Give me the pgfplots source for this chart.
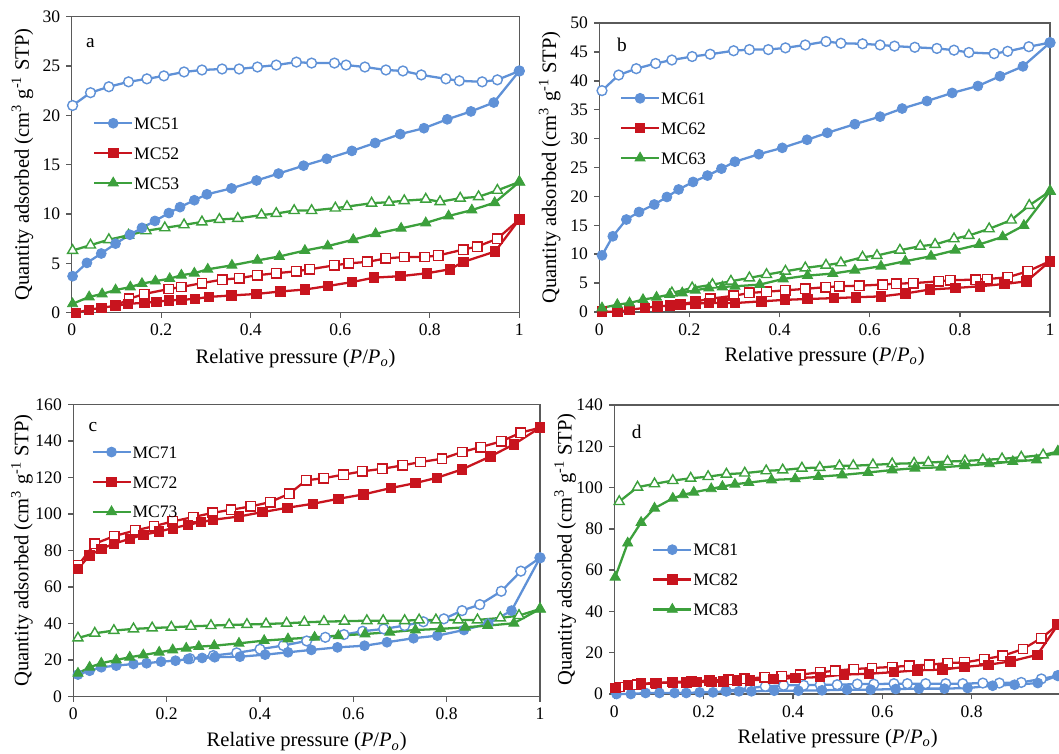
\documentclass[border=0pt]{standalone}
\usepackage{fontspec}
\setmainfont{Liberation Serif}
\usepackage{pgfplots}
\pgfplotsset{compat=1.18}
\definecolor{cb}{RGB}{95,145,215}
\definecolor{cr}{RGB}{200,20,30}
\definecolor{cg}{RGB}{60,160,60}
\definecolor{ax}{RGB}{90,90,90}
\pgfplotsset{
  iso/.style={scale only axis, anchor=south west, xmin=0, xmax=1, ymin=0, clip=false,
    xtick={0,0.2,0.4,0.6,0.8,1}, xticklabels={0,0.2,0.4,0.6,0.8,1},
    xtick pos=bottom, ytick pos=left, tick align=outside, major tick length=3pt,
    axis line style={ax, line width=0.9pt}, every tick/.style={ax, line width=0.8pt},
    tick label style={font=\fontsize{10}{12}\selectfont},
    /pgf/number format/assume math mode=true,
    label style={font=\fontsize{11.7}{14}\selectfont},
    xlabel={Relative pressure (\textit{P}/\textit{P}\textsubscript{\textit{o}})},
    ylabel={Quantity adsorbed (cm\textsuperscript{3} g\textsuperscript{-1} STP)},
    xlabel style={at={(axis description cs:0.5,-0.155)}, anchor=center},
    ylabel style={at={(axis description cs:-0.11,0.5)}, anchor=center},
    legend style={draw=none, fill=none, anchor=north west, inner sep=0pt,
      font=\fontsize{10}{12}\selectfont, row sep=9pt, column sep=0pt,
      nodes={inner sep=0.5pt, text height=7pt, text depth=0pt}},
    legend cell align=left,
    legend image code/.code={\draw[mark repeat=2, mark phase=2, ##1] plot coordinates {(0cm,0cm)(0.38cm,0cm)(0.76cm,0cm)};},
  },
  ads/.style={color=#1, line width=1.3pt, mark options={solid, fill=#1, draw=#1, line width=0.5pt}},
  des/.style={color=#1, line width=1.3pt, forget plot, mark options={solid, fill=white, draw=#1, line width=0.8pt}},
  mc/.style={mark=*, mark size=2.8pt},
  ms/.style={mark=square*, mark size=2.7pt},
  mt/.style={mark=triangle*, mark size=3.3pt},
}
\begin{document}
\begin{tikzpicture}
\useasboundingbox (0,0) rectangle (21.18,15.06);
\clip (0,0) rectangle (21.18,15.06);
% ---------------- panel a
\begin{axis}[iso, at={(1.434cm,8.806cm)}, width=8.952cm, height=5.92cm, ymax=30, ytick={0,5,...,30},
  legend style={at={(axis description cs:0.047,0.665)}}]
\addplot[des=cb, mc] coordinates {(0.002,21.0)(0.042,22.3)(0.083,22.9)(0.127,23.4)(0.168,23.7)(0.206,24.0)(0.251,24.4)(0.291,24.6)(0.336,24.7)(0.374,24.7)(0.415,24.9)(0.457,25.1)(0.502,25.4)(0.536,25.3)(0.587,25.3)(0.613,25.1)(0.655,24.9)(0.702,24.6)(0.740,24.5)(0.781,24.1)(0.836,23.7)(0.866,23.5)(0.917,23.4)(0.951,23.6)(1.0,24.5)};
\addplot[des=cr, ms] coordinates {(0.098,0.7)(0.128,1.4)(0.162,1.9)(0.217,2.4)(0.245,2.6)(0.291,3.0)(0.336,3.35)(0.374,3.5)(0.415,3.8)(0.457,4.0)(0.502,4.2)(0.532,4.4)(0.587,4.8)(0.619,5.0)(0.660,5.15)(0.702,5.5)(0.743,5.65)(0.789,5.65)(0.819,5.8)(0.875,6.4)(0.906,6.7)(0.951,7.5)(1.0,9.45)};
\addplot[des=cg, mt] coordinates {(0.002,6.3)(0.042,6.85)(0.083,7.4)(0.127,7.85)(0.166,8.3)(0.208,8.6)(0.251,8.9)(0.291,9.2)(0.330,9.45)(0.371,9.55)(0.424,9.9)(0.457,10.05)(0.497,10.35)(0.536,10.35)(0.589,10.6)(0.615,10.75)(0.670,11.1)(0.709,11.2)(0.743,11.35)(0.791,11.5)(0.823,11.25)(0.868,11.6)(0.909,11.75)(0.951,12.4)(1.0,13.25)};
\addplot[ads=cb, mc] coordinates {(0.002,3.7)(0.034,5.05)(0.066,6.0)(0.098,7.0)(0.13,7.9)(0.157,8.6)(0.186,9.3)(0.217,10.1)(0.242,10.7)(0.274,11.4)(0.302,12.0)(0.357,12.6)(0.413,13.4)(0.462,14.1)(0.518,14.9)(0.570,15.6)(0.626,16.4)(0.678,17.2)(0.734,18.1)(0.787,18.7)(0.839,19.6)(0.892,20.4)(0.943,21.3)(1.0,24.5)};
\addplot[ads=cr, ms] coordinates {(0.009,0.0)(0.039,0.3)(0.066,0.5)(0.098,0.7)(0.126,0.9)(0.162,1.0)(0.189,1.1)(0.217,1.25)(0.245,1.3)(0.275,1.4)(0.307,1.6)(0.357,1.75)(0.413,1.9)(0.466,2.15)(0.521,2.35)(0.572,2.7)(0.626,3.1)(0.675,3.55)(0.734,3.7)(0.794,4.0)(0.845,4.4)(0.875,5.15)(0.946,6.2)(1.0,9.45)};
\addplot[ads=cg, mt] coordinates {(0.002,0.9)(0.039,1.6)(0.068,1.9)(0.098,2.3)(0.131,2.6)(0.157,2.95)(0.187,3.2)(0.219,3.45)(0.245,3.8)(0.274,4.0)(0.304,4.4)(0.358,4.8)(0.415,5.3)(0.464,5.7)(0.521,6.3)(0.572,6.75)(0.629,7.4)(0.679,8.0)(0.736,8.55)(0.791,9.1)(0.842,9.8)(0.894,10.4)(0.945,11.15)(1.0,13.25)};
\legend{MC51,MC52,MC53}
\node[font=\fontsize{11}{13}\selectfont] at (rel axis cs:0.042,0.91) {a};
\end{axis}
% ---------------- panel b
\begin{axis}[iso, at={(11.986cm,8.82cm)}, width=9.014cm, height=5.78cm, ymax=50, ytick={0,5,...,50},
  legend style={at={(axis description cs:0.045,0.765)}}]
\addplot[des=cb, mc] coordinates {(0.006,38.3)(0.043,41.0)(0.082,42.1)(0.125,43.0)(0.161,43.6)(0.206,44.2)(0.246,44.6)(0.298,45.2)(0.333,45.4)(0.375,45.4)(0.413,45.7)(0.457,46.2)(0.503,46.8)(0.536,46.5)(0.584,46.4)(0.623,46.2)(0.655,46.0)(0.700,45.8)(0.749,45.6)(0.787,45.3)(0.820,44.9)(0.876,44.7)(0.906,45.1)(0.953,45.9)(1.0,46.6)};
\addplot[des=cr, ms] coordinates {(0.18,1.3)(0.213,1.8)(0.246,2.3)(0.298,2.8)(0.333,3.3)(0.371,3.5)(0.413,3.75)(0.457,4.0)(0.502,4.3)(0.532,4.45)(0.577,4.55)(0.629,4.75)(0.659,4.9)(0.697,5.0)(0.753,5.3)(0.779,5.5)(0.835,5.6)(0.861,5.7)(0.906,6.0)(0.951,7.05)(1.0,8.8)};
\addplot[des=cg, mt] coordinates {(0.161,3.3)(0.206,4.16)(0.251,4.74)(0.292,5.32)(0.333,5.9)(0.371,6.47)(0.413,7.05)(0.457,7.63)(0.503,8.09)(0.536,8.5)(0.584,9.48)(0.616,9.77)(0.667,10.69)(0.712,11.39)(0.745,11.68)(0.787,12.66)(0.820,13.24)(0.865,14.39)(0.914,15.9)(0.954,18.44)(1.0,20.9)};
\addplot[ads=cb, mc] coordinates {(0.006,9.8)(0.030,13.1)(0.060,16.0)(0.088,17.3)(0.122,18.6)(0.150,19.9)(0.176,21.2)(0.208,22.5)(0.240,23.6)(0.271,24.8)(0.301,26.0)(0.354,27.3)(0.406,28.4)(0.461,29.8)(0.506,31.0)(0.567,32.5)(0.623,33.8)(0.672,35.2)(0.727,36.5)(0.783,37.9)(0.840,39.1)(0.889,40.8)(0.940,42.5)(1.0,46.6)};
\addplot[ads=cr, ms] coordinates {(0.006,0.1)(0.040,0.0)(0.067,0.4)(0.101,0.7)(0.129,1.0)(0.157,1.1)(0.180,1.3)(0.213,1.45)(0.243,1.55)(0.273,1.55)(0.301,1.55)(0.360,1.85)(0.412,2.1)(0.462,2.25)(0.521,2.4)(0.569,2.55)(0.625,2.7)(0.679,3.2)(0.734,3.9)(0.790,4.15)(0.844,4.45)(0.899,4.85)(0.948,5.3)(1.0,8.8)};
\addplot[ads=cg, mt] coordinates {(0.006,0.7)(0.040,1.27)(0.067,1.56)(0.097,2.14)(0.127,2.54)(0.156,3.0)(0.184,3.3)(0.213,3.76)(0.243,4.16)(0.273,4.34)(0.301,4.45)(0.356,4.74)(0.408,5.72)(0.462,6.3)(0.518,6.65)(0.567,7.23)(0.625,7.92)(0.679,8.79)(0.736,9.65)(0.790,10.69)(0.843,11.68)(0.895,13.0)(0.942,14.97)(1.0,20.9)};
\legend{MC61,MC62,MC63}
\node[font=\fontsize{11}{13}\selectfont] at (rel axis cs:0.05,0.924) {b};
\end{axis}
% ---------------- panel c
\begin{axis}[iso, at={(1.466cm,1.126cm)}, width=9.334cm, height=5.848cm, ymax=160, ytick={0,20,...,160},
  legend style={at={(axis description cs:0.038,0.862)}}]
\addplot[des=cb, mc] coordinates {(0.25,20.8)(0.30,22.5)(0.35,24.0)(0.40,26.0)(0.45,28.0)(0.50,30.5)(0.54,32.5)(0.58,34.0)(0.62,35.8)(0.665,37.1)(0.71,38.9)(0.75,41.0)(0.794,42.6)(0.833,47.1)(0.871,50.4)(0.917,57.7)(0.959,68.7)(1.0,76.0)};
\addplot[des=cr, ms] coordinates {(0.010,71.8)(0.046,83.7)(0.088,87.9)(0.133,91.0)(0.173,93.3)(0.213,95.9)(0.257,98.3)(0.299,100.6)(0.338,102.3)(0.380,104.1)(0.422,106.5)(0.463,111.1)(0.499,118.4)(0.537,119.6)(0.579,121.5)(0.619,123.3)(0.662,124.7)(0.706,126.6)(0.744,128.4)(0.790,130.2)(0.833,133.9)(0.873,136.6)(0.917,139.7)(0.959,144.5)(1.0,147.2)};
\addplot[des=cg, mt] coordinates {(0.010,32.1)(0.046,34.7)(0.087,36.2)(0.129,37.1)(0.169,37.6)(0.210,38.0)(0.252,38.5)(0.295,38.9)(0.334,39.3)(0.372,39.5)(0.413,39.8)(0.457,40.2)(0.495,40.7)(0.537,41.1)(0.581,41.3)(0.629,41.6)(0.664,41.6)(0.710,41.6)(0.741,42.0)(0.777,42.0)(0.825,42.0)(0.866,42.0)(0.915,43.1)(0.955,44.4)(1.0,48.0)};
\addplot[ads=cb, mc] coordinates {(0.010,12.1)(0.035,14.2)(0.060,16.1)(0.092,17.0)(0.129,17.9)(0.157,18.3)(0.188,19.2)(0.219,19.7)(0.246,20.6)(0.276,21.2)(0.303,21.6)(0.357,21.9)(0.411,23.0)(0.460,24.3)(0.510,25.6)(0.566,27.0)(0.624,27.9)(0.672,29.8)(0.729,32.0)(0.780,33.4)(0.837,36.5)(0.889,40.0)(0.939,47.1)(1.0,76.0)};
\addplot[ads=cr, ms] coordinates {(0.010,70.0)(0.035,77.3)(0.060,80.9)(0.087,83.7)(0.121,86.4)(0.150,88.6)(0.184,90.4)(0.213,92.2)(0.246,94.1)(0.274,95.5)(0.299,96.8)(0.355,98.6)(0.405,101.0)(0.459,103.4)(0.514,105.6)(0.568,108.3)(0.622,110.7)(0.681,114.2)(0.733,116.9)(0.779,119.8)(0.833,124.4)(0.894,131.5)(0.944,138.1)(1.0,147.2)};
\addplot[ads=cg, mt] coordinates {(0.010,12.8)(0.035,16.1)(0.060,18.3)(0.092,20.1)(0.121,21.6)(0.150,22.8)(0.184,24.3)(0.213,25.6)(0.242,26.5)(0.269,27.4)(0.302,27.9)(0.355,29.2)(0.409,30.7)(0.460,31.6)(0.517,32.5)(0.568,33.4)(0.625,34.3)(0.678,35.3)(0.733,36.5)(0.787,37.1)(0.840,38.0)(0.888,38.9)(0.944,40.2)(1.0,48.0)};
\legend{MC71,MC72,MC73}
\node[font=\fontsize{11}{13}\selectfont] at (rel axis cs:0.042,0.923) {c};
\end{axis}
% ---------------- panel d
\begin{axis}[iso, at={(12.286cm,1.18cm)}, width=8.934cm, height=5.78cm, ymax=140, ytick={0,20,...,140},
  xticklabels={0,0.2,0.4,0.6,0.8,{}},
  legend style={at={(axis description cs:0.084,0.525)}}]
\addplot[des=cb, mc] coordinates {(0.25,1.5)(0.304,2.9)(0.338,3.7)(0.379,4.2)(0.424,4.2)(0.461,4.5)(0.499,4.5)(0.544,4.8)(0.581,4.8)(0.626,5.0)(0.656,5.0)(0.697,5.0)(0.742,5.0)(0.780,5.0)(0.825,5.3)(0.862,5.3)(0.911,5.6)(0.956,7.3)(0.993,8.9)};
\addplot[des=cr, ms] coordinates {(0.011,3.4)(0.052,4.5)(0.094,5.3)(0.131,5.8)(0.172,6.1)(0.214,6.5)(0.255,6.9)(0.292,7.4)(0.337,8.1)(0.375,8.5)(0.416,9.4)(0.461,10.5)(0.495,11.3)(0.536,12.1)(0.577,12.6)(0.622,13.1)(0.660,13.7)(0.705,14.2)(0.746,15.0)(0.784,15.3)(0.828,16.9)(0.870,18.5)(0.915,21.8)(0.956,27.1)(0.993,33.5)};
\addplot[des=cg, mt] coordinates {(0.011,93.2)(0.052,100.2)(0.090,101.8)(0.131,103.4)(0.171,104.5)(0.210,105.3)(0.251,106.5)(0.292,107.0)(0.340,108.1)(0.377,108.5)(0.420,109.4)(0.460,109.7)(0.504,110.5)(0.535,110.6)(0.579,111.0)(0.622,111.5)(0.671,111.8)(0.703,112.1)(0.746,112.6)(0.785,112.9)(0.825,113.4)(0.868,113.9)(0.911,114.7)(0.960,115.8)(0.993,117.4)};
\addplot[ads=cb, mc] coordinates {(0.005,0)(0.037,0)(0.070,0.5)(0.101,0.5)(0.135,0.5)(0.161,0.5)(0.191,0.8)(0.221,0.8)(0.251,1.3)(0.279,1.3)(0.307,1.3)(0.358,1.6)(0.412,1.6)(0.465,1.8)(0.521,2.1)(0.574,2.1)(0.630,2.4)(0.682,2.6)(0.739,2.6)(0.791,2.9)(0.847,4.0)(0.896,4.5)(0.948,5.3)(0.993,8.9)};
\addplot[ads=cr, ms] coordinates {(0.002,2.9)(0.030,4.5)(0.060,5.0)(0.092,5.3)(0.131,5.6)(0.161,5.6)(0.184,5.8)(0.217,5.8)(0.244,6.1)(0.274,6.5)(0.304,6.6)(0.356,7.3)(0.405,7.7)(0.460,8.2)(0.514,9.4)(0.570,9.8)(0.626,10.6)(0.679,11.5)(0.735,11.8)(0.784,13.1)(0.838,14.2)(0.887,15.8)(0.947,19.0)(0.993,33.5)};
\addplot[ads=cg, mt] coordinates {(0.002,56.6)(0.030,73.1)(0.060,83.1)(0.090,90.0)(0.131,94.8)(0.154,96.5)(0.178,97.7)(0.217,99.4)(0.242,100.5)(0.270,101.6)(0.301,102.4)(0.352,103.7)(0.405,104.2)(0.457,105.3)(0.510,106.1)(0.568,107.3)(0.622,108.5)(0.673,109.4)(0.731,109.8)(0.784,110.6)(0.840,111.5)(0.892,112.6)(0.945,113.4)(0.993,117.4)};
\legend{MC81,MC82,MC83}
\node[font=\fontsize{11}{13}\selectfont] at (rel axis cs:0.05,0.908) {d};
\end{axis}
\end{tikzpicture}
\end{document}
